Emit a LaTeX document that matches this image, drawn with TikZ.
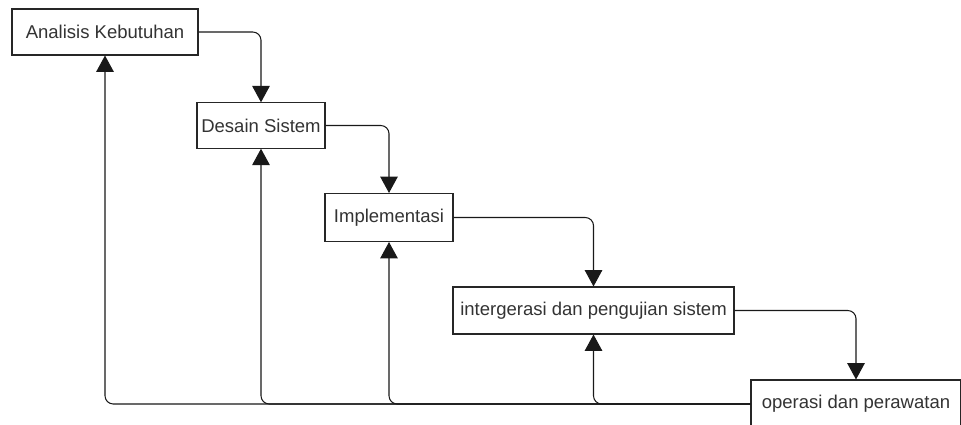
\documentclass[tikz,border=0pt]{standalone}
\usepackage{fontspec}
\setmainfont{Liberation Sans}
\usetikzlibrary{arrows.meta}
\tikzset{>={Triangle[width=15pt,length=14pt]}}
\tikzset{box/.style={draw=black!85, line width=0.9pt, fill=white, text=black!80, font=\fontsize{15.8}{18}\selectfont, inner sep=0pt}}
\tikzset{flow/.style={->, draw=black!90, line width=0.9pt, rounded corners=7pt}}

\begin{document}
\begin{tikzpicture}[x=0.03cm, y=-0.03cm]
    \useasboundingbox (0,0) rectangle (961,425);
    \clip (0,0) rectangle (961,425);

    \node[box, minimum width=5.58cm, minimum height=1.38cm] (analisis) at (105,32) {Analisis Kebutuhan};
    \node[box, minimum width=3.84cm, minimum height=1.36cm] (desain) at (261,125.5) {Desain Sistem};
    \node[box, minimum width=3.84cm, minimum height=1.44cm] (implementasi) at (389,217.5) {Implementasi};
    \node[box, minimum width=8.43cm, minimum height=1.41cm] (integrasi) at (593.5,310.5) {intergerasi dan pengujian sistem};
    \node[box, minimum width=6.3cm, minimum height=1.44cm] (operasi) at (856,404) {operasi dan perawatan};

    \draw[flow] (analisis.east) -| (desain.north);
    \draw[flow] (desain.east) -| (implementasi.north);
    \draw[flow] (implementasi.east) -| (integrasi.north);
    \draw[flow] (integrasi.east) -| (operasi.north);

    \draw[flow] (operasi.west) -| (integrasi.south);
    \draw[flow] (operasi.west) -| (implementasi.south);
    \draw[flow] (operasi.west) -| (desain.south);
    \draw[flow] (operasi.west) -| (analisis.south);

\end{tikzpicture}
\end{document}
